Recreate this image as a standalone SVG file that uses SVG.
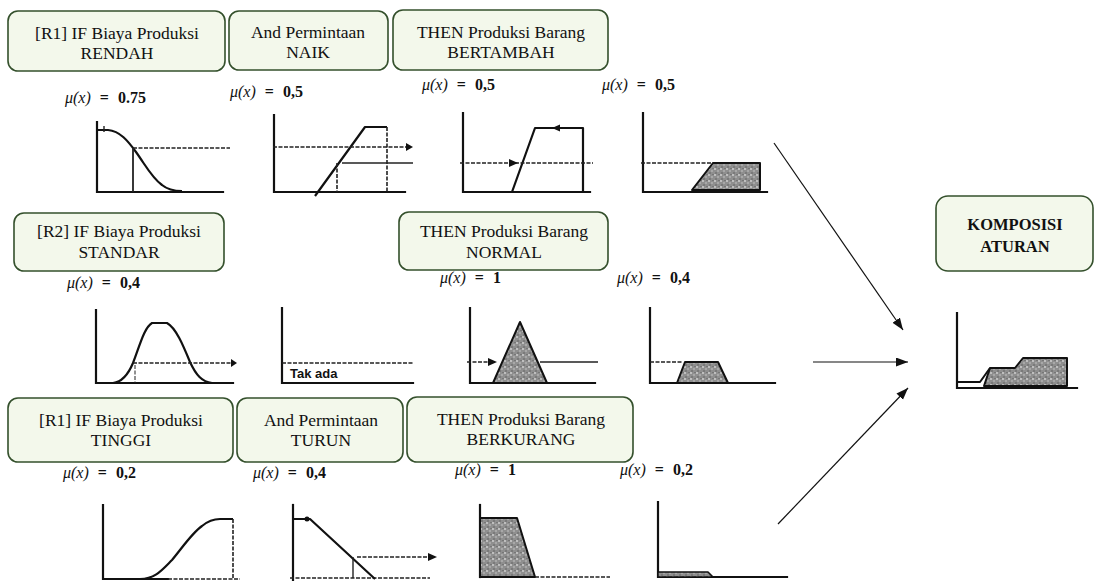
<svg xmlns="http://www.w3.org/2000/svg" width="1098" height="581" viewBox="0 0 1098 581">
<defs>
<style>
.box{fill:#f3f8eb;stroke:#34502c;stroke-width:1.6}
.bt{font-family:"Liberation Serif","Times New Roman",serif;font-size:17.5px;fill:#111;text-anchor:middle}
.bb{font-family:"Liberation Serif","Times New Roman",serif;font-size:16.5px;font-weight:bold;fill:#111;text-anchor:middle}
.mu{font-family:"Liberation Serif","Times New Roman",serif;font-size:16px;font-weight:bold;fill:#111}
.mi{font-style:italic;font-weight:normal}
.ax{stroke:#111;stroke-width:2.2;fill:none;stroke-linecap:square}
.cv{stroke:#111;stroke-width:2.2;fill:none;stroke-linejoin:round}
.ds{stroke:#222;stroke-width:1.6;fill:none;stroke-dasharray:4 1.5}
.tl{stroke:#222;stroke-width:1.4;fill:none}
.sh{fill:url(#speck);stroke:#111;stroke-width:2;stroke-linejoin:round}
.hd{fill:#111}
.cn{stroke:#111;stroke-width:1.2;fill:none}
</style>
<pattern id="speck" width="6" height="6" patternUnits="userSpaceOnUse">
<rect width="6" height="6" fill="#8f8f8f"/>
<circle cx="1" cy="1" r="0.9" fill="#d6d6d6"/>
<circle cx="4" cy="3" r="0.8" fill="#c8c8c8"/>
<circle cx="2" cy="5" r="0.7" fill="#555"/>
<circle cx="5" cy="0.5" r="0.6" fill="#606060"/>
</pattern>
<marker id="ah" markerWidth="13" markerHeight="10" refX="12" refY="4.5" orient="auto" markerUnits="userSpaceOnUse">
<path d="M0,0 L12,4.5 L0,9 Z" fill="#111"/>
</marker>
</defs>
<rect width="1098" height="581" fill="#ffffff"/>

<!-- Top row boxes -->
<g id="r1-if-rendah"><rect class="box" x="8" y="11" width="217" height="60" rx="10"/><text class="bt" x="117" y="39">[R1] IF Biaya Produksi</text><text class="bt" x="117" y="59">RENDAH</text></g>
<g id="r1-and-naik"><rect class="box" x="229" y="11" width="159" height="59" rx="10"/><text class="bt" x="308" y="38">And Permintaan</text><text class="bt" x="308" y="58">NAIK</text></g>
<g id="r1-then-bertambah"><rect class="box" x="393" y="10" width="215" height="60" rx="10"/><text class="bt" x="501" y="38">THEN Produksi Barang</text><text class="bt" x="501" y="58">BERTAMBAH</text></g>

<!-- Middle row boxes -->
<g id="r2-if-standar"><rect class="box" x="14" y="213" width="210" height="58" rx="10"/><text class="bt" x="119" y="237">[R2] IF Biaya Produksi</text><text class="bt" x="119" y="258">STANDAR</text></g>
<g id="r2-then-normal"><rect class="box" x="399" y="212" width="209" height="58" rx="10"/><text class="bt" x="504" y="237">THEN Produksi Barang</text><text class="bt" x="504" y="258">NORMAL</text></g>

<!-- Bottom row boxes -->
<g id="r3-if-tinggi"><rect class="box" x="8" y="398" width="225" height="64" rx="10"/><text class="bt" x="121" y="426">[R1] IF Biaya Produksi</text><text class="bt" x="121" y="446">TINGGI</text></g>
<g id="r3-and-turun"><rect class="box" x="237" y="398" width="166" height="64" rx="10"/><text class="bt" x="321" y="426">And Permintaan</text><text class="bt" x="321" y="446">TURUN</text></g>
<g id="r3-then-berkurang"><rect class="box" x="407" y="397" width="226" height="65" rx="10"/><text class="bt" x="521" y="425">THEN Produksi Barang</text><text class="bt" x="521" y="445">BERKURANG</text></g>

<!-- Composition box -->
<g id="komposisi"><rect class="box" x="936" y="196" width="157" height="75" rx="12"/><text class="bb" x="1015" y="230">KOMPOSISI</text><text class="bb" x="1015" y="252">ATURAN</text></g>

<!-- mu labels -->
<g id="mu-labels">
<text class="mu" x="65" y="103"><tspan class="mi">μ(x)</tspan><tspan dx="9">=</tspan><tspan dx="9">0.75</tspan></text>
<text class="mu" x="230" y="97"><tspan class="mi">μ(x)</tspan><tspan dx="9">=</tspan><tspan dx="9">0,5</tspan></text>
<text class="mu" x="422" y="90"><tspan class="mi">μ(x)</tspan><tspan dx="9">=</tspan><tspan dx="9">0,5</tspan></text>
<text class="mu" x="602" y="90"><tspan class="mi">μ(x)</tspan><tspan dx="9">=</tspan><tspan dx="9">0,5</tspan></text>
<text class="mu" x="67" y="288"><tspan class="mi">μ(x)</tspan><tspan dx="9">=</tspan><tspan dx="9">0,4</tspan></text>
<text class="mu" x="440" y="283"><tspan class="mi">μ(x)</tspan><tspan dx="9">=</tspan><tspan dx="9">1</tspan></text>
<text class="mu" x="617" y="283"><tspan class="mi">μ(x)</tspan><tspan dx="9">=</tspan><tspan dx="9">0,4</tspan></text>
<text class="mu" x="63" y="478"><tspan class="mi">μ(x)</tspan><tspan dx="9">=</tspan><tspan dx="9">0,2</tspan></text>
<text class="mu" x="253" y="478"><tspan class="mi">μ(x)</tspan><tspan dx="9">=</tspan><tspan dx="9">0,4</tspan></text>
<text class="mu" x="455" y="475"><tspan class="mi">μ(x)</tspan><tspan dx="9">=</tspan><tspan dx="9">1</tspan></text>
<text class="mu" x="620" y="475"><tspan class="mi">μ(x)</tspan><tspan dx="9">=</tspan><tspan dx="9">0,2</tspan></text>
</g>

<!-- Row 1 graphs -->
<g id="g1">
<path class="ax" d="M97,122 L97,192 L223,192"/>
<path class="cv" d="M97,130 L108,130 C120,131 128,141 136,152 C146,166 152,178 162,185 C168,190 174,191 182,191"/>
<line class="tl" x1="104" y1="126" x2="104" y2="132"/>
<line class="ds" x1="133" y1="148" x2="230" y2="148"/>
<line class="tl" x1="133" y1="148" x2="133" y2="192" style="stroke-width:1.8"/>
</g>
<g id="g2">
<path class="ax" d="M274,115 L274,192 L405,192"/>
<path class="cv" d="M315,196 L365,127 L387,127"/>
<line class="ds" x1="387" y1="127" x2="387" y2="192"/>
<line class="ds" x1="273" y1="147" x2="408" y2="147"/>
<path class="hd" d="M406,143 L413,147 L406,151 Z"/>
<line class="tl" x1="342" y1="163" x2="413" y2="163"/>
<line class="ds" x1="337" y1="163" x2="337" y2="192"/>
</g>
<g id="g3">
<path class="ax" d="M463,113 L463,192 L590,192"/>
<path class="cv" d="M512,192 L535,128 L583,128 L583,192"/>
<path class="hd" d="M552,128 L560,124.5 L560,131.5 Z"/>
<line class="ds" x1="460" y1="163" x2="593" y2="163"/>
<path class="hd" d="M509,159 L518,163 L509,167 Z"/>
</g>
<g id="g4">
<path class="ax" d="M643,113 L643,192 L767,192"/>
<line class="ds" x1="641" y1="163" x2="713" y2="163"/>
<path class="sh" d="M692,190 L713,163 L760,163 L760,190 Z"/>
</g>

<!-- Row 2 graphs -->
<g id="g5">
<path class="ax" d="M96,310 L96,383 L233,383"/>
<path class="cv" d="M113,383 C122,382 128,375 133,363 C140,345 144,328 152,323 L167,323 C176,328 183,345 190,362 C196,375 202,382 212,383"/>
<line class="ds" x1="133" y1="363" x2="233" y2="363"/>
<path class="hd" d="M231,359 L237,363 L231,367 Z"/>
<line class="ds" x1="135" y1="365" x2="135" y2="383" style="stroke-width:1"/>
</g>
<g id="g6">
<path class="ax" d="M282,308 L282,383 L413,383"/>
<line class="ds" x1="282" y1="363" x2="413" y2="363"/>
<text x="290" y="378" style="font-family:'Liberation Sans',Arial,sans-serif;font-size:13px;font-weight:bold;fill:#111">Tak ada</text>
</g>
<g id="g7">
<path class="ax" d="M470,308 L470,383 L595,383"/>
<path class="sh" d="M493,383 L520,322 L547,383 Z"/>
<line class="ds" x1="467" y1="362" x2="490" y2="362"/>
<path class="hd" d="M488,358 L497,362 L488,366 Z"/>
<line class="tl" x1="540" y1="362" x2="598" y2="362"/>
</g>
<g id="g8">
<path class="ax" d="M650,308 L650,383 L775,383"/>
<line class="ds" x1="650" y1="362" x2="683" y2="362"/>
<path class="sh" d="M677,383 L685,362 L718,362 L728,383 Z"/>
</g>

<!-- Row 3 graphs -->
<g id="g9">
<path class="ax" d="M103,505 L103,579 L168,579"/>
<line class="ds" x1="168" y1="579" x2="240" y2="579"/>
<path class="cv" d="M140,579 C155,579 162,570 172,560 C182,548 192,533 202,526 C208,521 214,519 220,519 L233,519"/>
<line class="ds" x1="233" y1="519" x2="233" y2="579"/>
</g>
<g id="g10">
<line class="ax" x1="293" y1="505" x2="293" y2="581"/>
<line class="ds" x1="290" y1="578" x2="430" y2="578"/>
<path class="cv" d="M293,519 L310,519 L375,579"/>
<circle cx="307" cy="519" r="2.5" fill="#111"/>
<line class="ds" x1="357" y1="557" x2="430" y2="557"/>
<path class="hd" d="M428,553 L437,557 L428,561 Z"/>
<line class="tl" x1="353" y1="557" x2="353" y2="578"/>
</g>
<g id="g11">
<line class="ax" x1="480" y1="505" x2="480" y2="577"/>
<path class="sh" d="M480,518 L517,518 L535,577 L480,577 Z"/>
<line class="ds" x1="535" y1="577" x2="610" y2="577"/>
</g>
<g id="g12">
<path class="ax" d="M658,502 L658,577 L787,577"/>
<path class="sh" d="M658,572 L708,572 L713,577 L658,577 Z" style="stroke-width:1.5"/>
</g>

<!-- Composition graph -->
<g id="g-komposisi">
<path class="ax" d="M957,313 L957,388 L1077,388"/>
<path class="sh" d="M984,386 L990,368 L1015,368 L1023,358 L1067,358 L1067,386 Z"/>
<path class="cv" d="M957,382 L980,382 L990,368" style="stroke-width:2"/>
</g>

<!-- Connectors -->
<g id="connectors">
<line class="cn" x1="774" y1="143" x2="903" y2="330" marker-end="url(#ah)"/>
<line class="cn" x1="813" y1="362" x2="908" y2="362" marker-end="url(#ah)"/>
<line class="cn" x1="778" y1="524" x2="908" y2="388" marker-end="url(#ah)"/>
</g>
</svg>
